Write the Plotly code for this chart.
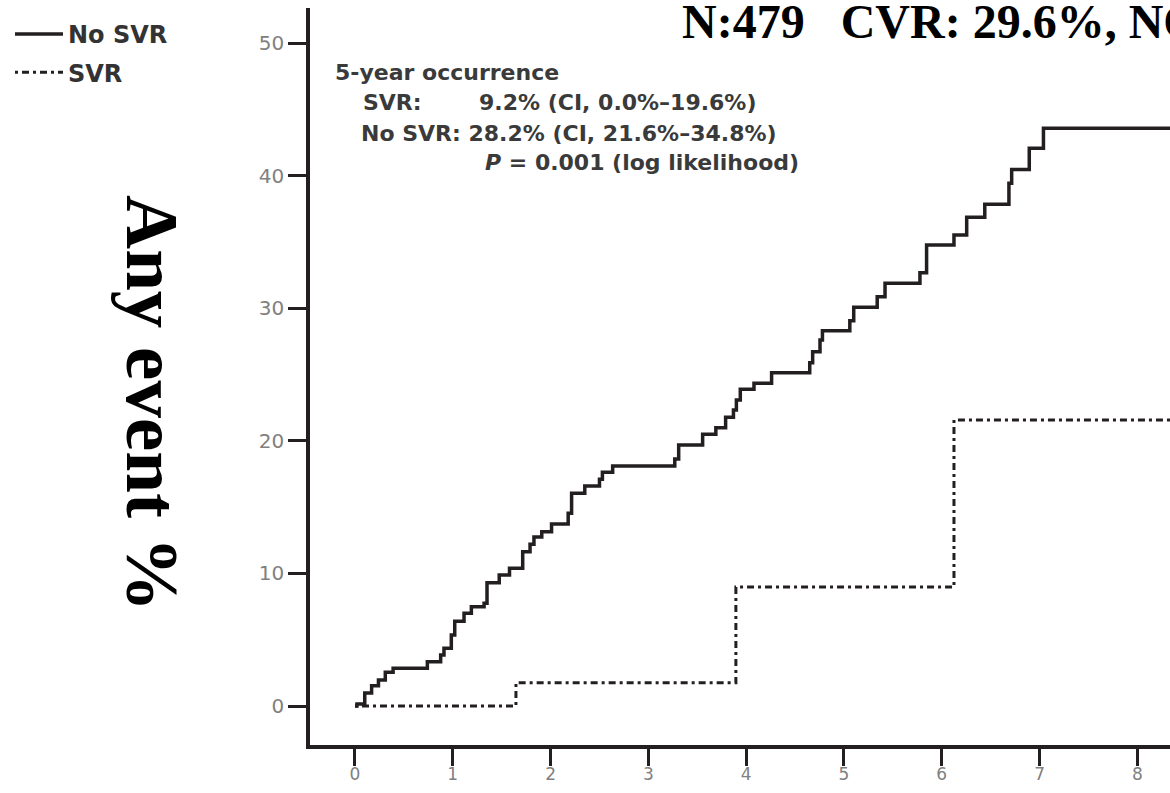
import plotly.graph_objects as go

# ---- data ----
no_svr_years = [0, 0.02, 0.10, 0.17, 0.24, 0.31, 0.39, 0.74, 0.876, 0.91, 0.985, 1.02,
                1.115, 1.19, 1.32, 1.35, 1.475, 1.58, 1.715, 1.79, 1.83, 1.91, 2.01,
                2.18, 2.215, 2.35, 2.50, 2.53, 2.635, 3.27, 3.31, 3.555, 3.69, 3.79,
                3.87, 3.90, 3.94, 4.08, 4.26, 4.65, 4.68, 4.755, 4.78, 5.06, 5.10,
                5.34, 5.42, 5.777, 5.845, 6.125, 6.255, 6.44, 6.687, 6.715, 6.895,
                7.04, 8.4]
no_svr_pct = [0, 0.15, 0.98, 1.53, 1.96, 2.54, 2.84, 3.34, 3.85, 4.35, 5.35, 6.39,
              6.99, 7.49, 7.75, 9.30, 9.88, 10.38, 11.64, 12.2, 12.75, 13.15, 13.73,
              14.53, 16.04, 16.59, 17.10, 17.62, 18.10, 18.63, 19.68, 20.49, 20.99,
              21.77, 22.32, 23.08, 23.88, 24.34, 25.14, 25.89, 26.72, 27.6, 28.30,
              29.06, 30.07, 30.87, 31.88, 32.68, 34.77, 35.52, 36.86, 37.84, 39.42,
              40.47, 42.06, 43.57, 43.57]

svr_years = [0, 1.646, 3.895, 6.125, 8.4]
svr_pct = [0, 1.76, 8.97, 21.57, 21.57]

x_ticks = [0, 1, 2, 3, 4, 5, 6, 7, 8]
y_ticks = [0, 10, 20, 30, 40, 50]

title_text = "N:479   CVR: 29.6%, NON-CVR: 70.4%"
y_title_text = "Any event %"

INK = "#231f20"
W, H = 1170, 793
ML, MR, MT, MB = 310, 0, 8, 48
PW, PH = W - ML - MR, H - MT - MB


def px_x(px):
    return (px - ML) / PW


def px_y(py):
    return (H - MB - py) / PH


fig = go.Figure()
fig.add_trace(go.Scatter(
    x=svr_years, y=svr_pct, mode="lines", name="SVR", legendgroup="b", legendrank=2,
    line=dict(color=INK, width=3, shape="hv", dash="3px,4px,7px,4px"),
))
fig.add_trace(go.Scatter(
    x=no_svr_years, y=no_svr_pct, mode="lines", name="No SVR", legendgroup="a", legendrank=1,
    line=dict(color=INK, width=3.5, shape="hv"),
))

txt_font = dict(family="DejaVu Sans", size=22, color="#3a3a3a", weight="bold")
annots = [
    dict(text="5-year occurrence", x=px_x(333), y=px_y(72)),
    dict(text="SVR:", x=px_x(361), y=px_y(103)),
    dict(text="9.2% (CI, 0.0%\u201319.6%)", x=px_x(477), y=px_y(103)),
    dict(text="No SVR: 28.2% (CI, 21.6%\u201334.8%)", x=px_x(359), y=px_y(133)),
    dict(text="<i>P</i> = 0.001 (log likelihood)", x=px_x(483), y=px_y(162)),
]
for a in annots:
    fig.add_annotation(xref="paper", yref="paper", xanchor="left", yanchor="middle",
                       showarrow=False, font=txt_font, **a)

fig.add_annotation(text=f"<b>{title_text}</b>", xref="paper", yref="paper",
                   x=px_x(680), y=px_y(21), xanchor="left", yanchor="middle",
                   showarrow=False,
                   font=dict(family="Liberation Serif", size=48, color="black"))

fig.add_annotation(text=f"<b>{y_title_text}</b>", xref="paper", yref="paper",
                   x=px_x(153), y=px_y(403), xanchor="center", yanchor="middle",
                   textangle=90, showarrow=False,
                   font=dict(family="Liberation Serif", size=75, color="black"))

fig.update_layout(
    width=W, height=H,
    margin=dict(l=ML, r=MR, t=MT, b=MB),
    plot_bgcolor="white", paper_bgcolor="white",
    showlegend=True,
    legend=dict(x=px_x(10), y=px_y(12), xanchor="left", yanchor="top",
                traceorder="grouped", tracegroupgap=4, itemwidth=48,
                font=dict(family="DejaVu Sans", size=24, color="#333333", weight="bold"),
                bgcolor="rgba(0,0,0,0)"),
    xaxis=dict(range=[-0.46, 8.334], tickvals=x_ticks, ticktext=[str(v) for v in x_ticks],
               showline=True, linecolor=INK, linewidth=3.5,
               ticks="outside", ticklen=17, tickwidth=3, tickcolor=INK,
               ticklabelstandoff=-6,
               showgrid=False, zeroline=False,
               tickfont=dict(family="DejaVu Sans", size=17, color="#808080")),
    yaxis=dict(range=[-2.94, 52.64], tickvals=y_ticks, ticktext=[str(v) for v in y_ticks],
               showline=True, linecolor=INK, linewidth=3.5,
               ticks="outside", ticklen=18, tickwidth=3, tickcolor=INK,
               showgrid=False, zeroline=False,
               tickfont=dict(family="DejaVu Sans", size=20, color="#808080")),
)

fig.write_html("out.html", config={"displayModeBar": False},
               post_script="document.body.style.margin='0';document.body.style.overflow='hidden';")
